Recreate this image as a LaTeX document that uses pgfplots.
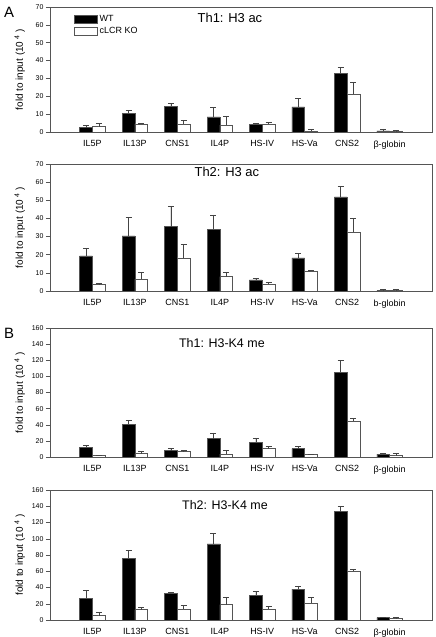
\documentclass[border=0pt]{standalone}
\usepackage{pgfplots}
\usepackage{pgfplotstable}
\pgfplotsset{compat=1.18}
\usepackage{fontspec}
\setmainfont{Liberation Sans}
\definecolor{frame}{HTML}{555555}
\definecolor{ebar}{HTML}{444444}

\pgfplotstableread{
x wt wte ko koe
0 2.4 1.5 3.0 1.6
1 10.6 1.5 4.6 0.4
2 14.5 1.5 4.3 2.2
3 8.5 5.4 3.9 5.0
4 4.3 0.7 4.5 1.1
5 14.1 4.5 0.6 0.7
6 32.9 3.1 21.4 6.3
7 0.7 1.0 0.2 0.9
}\tA
\pgfplotstableread{
x wt wte ko koe
0 19.3 4.1 3.9 0.1
1 30.4 10.1 6.6 3.7
2 35.5 11.1 18.2 7.6
3 34.1 7.9 7.9 2.4
4 6.1 0.9 3.9 1.1
5 18.2 2.4 11.0 0.4
6 51.9 5.7 32.6 7.5
7 0.2 0.7 0.2 0.7
}\tB
\pgfplotstableread{
x wt wte ko koe
0 12.4 2.1 2.1 0.4
1 40.9 4.2 4.1 2.5
2 7.9 2.4 7.4 0.5
3 22.7 7.1 3.7 4.2
4 18.6 5.0 10.3 2.5
5 10.3 3.3 2.9 0.8
6 105.4 14.9 44.6 2.9
7 3.7 0.8 1.7 2.8
}\tC
\pgfplotstableread{
x wt wte ko koe
0 26.6 9.8 5.3 3.7
1 76.1 9.8 12.7 2.4
2 32.7 1.7 13.1 4.5
3 93.7 12.7 18.8 8.6
4 30.3 4.9 13.1 3.3
5 38.1 4.0 20.5 6.9
6 133.4 6.5 60.6 1.2
7 2.9 0.8 2.5 0.4
}\tD

\pgfplotsset{
  panel/.style={
    scale only axis, width=382bp,
    anchor=south west,
    xmin=-1, xmax=8, ymin=0,
    axis line style={draw=frame, line width=0.6pt},
    xtick={0,...,7}, xtick style={draw=none},
    xticklabel style={font=\fontsize{9}{10}\selectfont, yshift=-1bp},
    ytick pos=left, tick align=outside, major tick length=4bp,
    ytick style={draw=frame, line width=0.5pt},
    yticklabel style={font=\fontsize{7}{8}\selectfont, xshift=1bp},
    /pgf/number format/assume math mode=true,
    ylabel={fold to input (10\textsuperscript{\,\,4} )},
    ylabel style={font=\fontsize{10}{11}\selectfont, at={(axis description cs:-0.079,0.5)}, anchor=center},
    ybar, bar width=0.3,
    wt/.style={fill=black, draw=frame, line width=0.5pt, bar shift=-0.15,
      error bars/.cd, y dir=plus, y explicit,
      error bar style={draw=ebar, line width=0.6pt},
      error mark options={rotate=90, draw=ebar, line width=0.6pt, mark size=3bp}},
    ko/.style={fill=white, draw=frame, line width=0.5pt, bar shift=0.15,
      error bars/.cd, y dir=plus, y explicit,
      error bar style={draw=ebar, line width=0.6pt},
      error mark options={rotate=90, draw=ebar, line width=0.6pt, mark size=3bp}},
  }
}

\begin{document}
\begin{tikzpicture}
\path[use as bounding box] (0,0) rectangle (436bp,-637bp);

% Panel A1
\begin{axis}[panel, at={(50bp,-132bp)}, height=125bp, ymax=70, ytick={0,10,...,70},
  xticklabels={IL5P,IL13P,CNS1,IL4P,HS-IV,HS-Va,CNS2,β-globin},
  legend style={at={(rel axis cs:0.055,0.97)}, anchor=north west, draw=none, fill=none,
    font=\fontsize{9}{10}\selectfont, row sep=1bp},
  legend cell align=left,
  legend image code/.code={\draw[#1,line width=0.5pt] (0bp,-4bp) rectangle (23bp,4bp);},
  ]
\addplot[wt] table[x=x, y=wt, y error=wte] {\tA};
\addplot[ko] table[x=x, y=ko, y error=koe] {\tA};
\legend{WT, cLCR KO}
\node[font=\fontsize{13}{14}\selectfont] at (rel axis cs:0.471,0.912) {Th1: H3 ac};
\end{axis}

% Panel A2
\begin{axis}[panel, at={(50bp,-291bp)}, height=127bp, ymax=70, ytick={0,10,...,70},
  xticklabels={IL5P,IL13P,CNS1,IL4P,HS-IV,HS-Va,CNS2,b-globin}]
\addplot[wt] table[x=x, y=wt, y error=wte] {\tB};
\addplot[ko] table[x=x, y=ko, y error=koe] {\tB};
\node[font=\fontsize{13}{14}\selectfont] at (rel axis cs:0.463,0.937) {Th2: H3 ac};
\end{axis}

% Panel B1
\begin{axis}[panel, at={(50bp,-457bp)}, height=129bp, ymax=160, ytick={0,20,...,160},
  xticklabels={IL5P,IL13P,CNS1,IL4P,HS-IV,HS-Va,CNS2,β-globin}]
\addplot[wt] table[x=x, y=wt, y error=wte] {\tC};
\addplot[ko] table[x=x, y=ko, y error=koe] {\tC};
\node[font=\fontsize{12.5}{14}\selectfont] at (rel axis cs:0.45,0.884) {Th1: H3-K4 me};
\end{axis}

% Panel B2
\begin{axis}[panel, at={(50bp,-620bp)}, height=130bp, ymax=160, ytick={0,20,...,160},
  xticklabels={IL5P,IL13P,CNS1,IL4P,HS-IV,HS-Va,CNS2,β-globin}]
\addplot[wt] table[x=x, y=wt, y error=wte] {\tD};
\addplot[ko] table[x=x, y=ko, y error=koe] {\tD};
\node[font=\fontsize{12.5}{14}\selectfont] at (rel axis cs:0.458,0.885) {Th2: H3-K4 me};
\end{axis}

\node[font=\fontsize{15}{16}\selectfont] at (9bp,-12bp) {A};
\node[font=\fontsize{15}{16}\selectfont] at (9bp,-333bp) {B};
\end{tikzpicture}
\end{document}
